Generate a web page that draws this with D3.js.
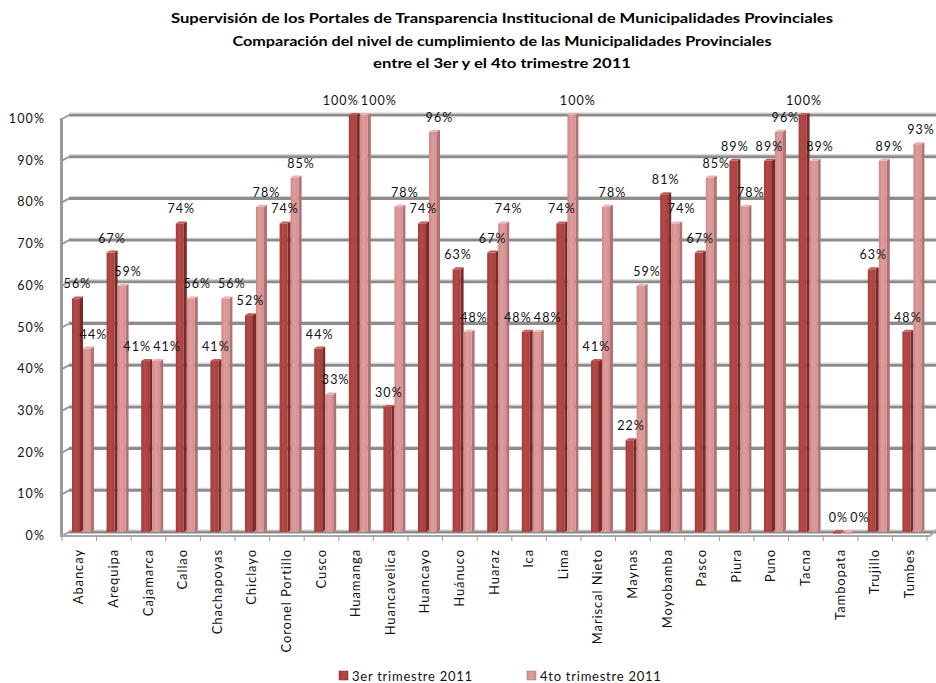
<!DOCTYPE html>
<html><head><meta charset="utf-8">
<script src="https://cdn.jsdelivr.net/npm/d3@7"></script>
<style>body{margin:0;background:#fff;}svg{display:block;}</style>
</head><body>
<script>
const categories = ["Abancay","Arequipa","Cajamarca","Callao","Chachapoyas","Chiclayo","Coronel Portillo","Cusco","Huamanga","Huancavelica","Huancayo","Huánuco","Huaraz","Ica","Lima","Mariscal Nieto","Maynas","Moyobamba","Pasco","Piura","Puno","Tacna","Tambopata","Trujillo","Tumbes"];
const series = ["3er trimestre 2011","4to trimestre 2011"];
const q3 = [56,67,41,74,41,52,74,44,100,30,74,63,67,48,74,41,22,81,67,89,89,100,0,63,48];
const q4 = [44,59,41,56,56,78,85,33,100,78,96,48,74,48,100,78,59,74,85,78,96,89,0,89,93];
const yTicks = [0,10,20,30,40,50,60,70,80,90,100];
const titleLines = ["Supervisión de los Portales de Transparencia Institucional de Municipalidades Provinciales","Comparación del nivel de cumplimiento de las Municipalidades Provinciales","entre el 3er y el 4to trimestre 2011"];

const W=936,H=683;
const svg=d3.select("body").append("svg").attr("width",W).attr("height",H);
const font="Lato, 'Open Sans', sans-serif";

const defs=svg.append("defs");
function grad(id,c1,c2,c3){
  const g=defs.append("linearGradient").attr("id",id).attr("x1","0").attr("x2","1").attr("y1","0").attr("y2","0");
  g.append("stop").attr("offset","0%").attr("stop-color",c1);
  g.append("stop").attr("offset","45%").attr("stop-color",c2);
  g.append("stop").attr("offset","100%").attr("stop-color",c3);
}
grad("g0","#a53c3a","#b44a47","#a2403d");
grad("g1","#d08887","#de9d9c","#d29190");
const sideCol=["#7a2a28","#b27172"];
const topCol=["#c25a57","#e6b1b0"];

const x=d3.scaleBand().domain(categories).range([62,927]);
const x1=d3.scaleBand().domain(series).range([10,32]);
const y=d3.scaleLinear().domain([0,100]).range([532,115]);

// title
const tw=[662,539,258];
titleLines.forEach((t,i)=>{
  svg.append("text").attr("x",502).attr("y",23+i*22.5).attr("text-anchor","middle")
    .attr("font-family",font).attr("font-weight","bold").attr("font-size",14)
    .attr("textLength",tw[i]).attr("lengthAdjust","spacingAndGlyphs").attr("fill","#000").text(t);
});

// gridlines (3D back wall)
const g=svg.append("g");
yTicks.forEach(v=>{
  const yy=y(v);
  g.append("line").attr("x1",69).attr("x2",W).attr("y1",yy).attr("y2",yy).attr("stroke","#8c8c8c").attr("stroke-width",3);
  g.append("line").attr("x1",69).attr("x2",W).attr("y1",yy-2).attr("y2",yy-2).attr("stroke","#cfcfcf").attr("stroke-width",1);
  g.append("line").attr("x1",62).attr("x2",69).attr("y1",yy+4).attr("y2",yy).attr("stroke","#9a9a9a").attr("stroke-width",2);
});
g.append("line").attr("x1",61.5).attr("x2",61.5).attr("y1",y(100)+3).attr("y2",537).attr("stroke","#9a9a9a").attr("stroke-width",3);
g.append("line").attr("x1",60).attr("x2",930).attr("y1",536).attr("y2",536).attr("stroke","#a8a8a8").attr("stroke-width",2);
g.append("line").attr("x1",930).attr("x2",936).attr("y1",536).attr("y2",530).attr("stroke","#a8a8a8").attr("stroke-width",2);
categories.concat([null]).forEach((c,i)=>{
  const xx=c?x(c):x.range()[1];
  g.append("line").attr("x1",xx).attr("x2",xx).attr("y1",536).attr("y2",541).attr("stroke","#9a9a9a").attr("stroke-width",1);
});
yTicks.forEach(v=>{
  svg.append("text").attr("x",45).attr("y",y(v)+8).attr("text-anchor","end")
    .attr("font-family",font).attr("font-size",12.5).attr("letter-spacing",1.1).attr("fill","#111").text(v+"%");
});

// bars
const data=[q3,q4];
const bars=svg.append("g");
categories.forEach((c,i)=>{
  series.forEach((s,si)=>{
    const v=data[si][i];
    const bx=x(c)+x1(s), fw=8, sw=3;
    const top=y(v), base=532;
    const h=base-top;
    bars.append("path").attr("d",`M${bx+fw},${top} L${bx+fw+sw},${top-2} L${bx+fw+sw},${base-2} L${bx+fw},${base} Z`).attr("fill",sideCol[si]);
    bars.append("rect").attr("x",bx).attr("y",top).attr("width",fw).attr("height",Math.max(h,1.5)).attr("fill",`url(#g${si})`);
    bars.append("path").attr("d",`M${bx},${top} L${bx+sw},${top-2} L${bx+fw+sw},${top-2} L${bx+fw},${top} Z`).attr("fill",topCol[si]);
  });
});

// labels with simple collision avoidance
const lab=svg.append("g").attr("font-family",font).attr("font-size",12.5).attr("letter-spacing",1.1).attr("fill","#111");
categories.forEach((c,i)=>{
  const t=series.map((s,si)=>{
    const v=data[si][i];
    const cx=x(c)+x1(s)+5.5+(si?5:0);
    return lab.append("text").attr("x",cx).attr("y",y(v)-10).attr("text-anchor","middle").text(v+"%");
  });
  const w0=t[0].node().getComputedTextLength(), w1=t[1].node().getComputedTextLength();
  const xa=+t[0].attr("x"), xb=+t[1].attr("x");
  const dy=Math.abs(y(data[0][i])-y(data[1][i]));
  if(dy<14 && (xb-xa)<(w0+w1)/2+2){
    const mid=x(c)+x1.range()[0]+(x1.range()[1]-x1.range()[0])/2+(data[0][i]===0?5:0);
    const sep=(w0+w1)/2+2;
    t[0].attr("x",mid-sep/2); t[1].attr("x",mid+sep/2);
  }
  t.forEach((tt,k)=>{
    const w=k?w1:w0;
    if(+tt.attr("x")+w/2>W-1) tt.attr("x",W-1-w/2);
  });
});

// category labels
categories.forEach(c=>{
  const cx=x(c)+x.bandwidth()/2+4;
  svg.append("text").attr("transform",`translate(${cx},549) rotate(-90)`).attr("text-anchor","end")
    .attr("font-family",font).attr("font-size",13).attr("letter-spacing",0.9).attr("fill","#111").text(c);
});

// legend
const leg=[{x:339,t:series[0]},{x:527,t:series[1]}];
leg.forEach((l,i)=>{
  svg.append("rect").attr("x",l.x).attr("y",671).attr("width",9).attr("height",9).attr("fill",`url(#g${i})`).attr("stroke",sideCol[i]).attr("stroke-width",0.5);
  svg.append("text").attr("x",l.x+13).attr("y",681).attr("font-family",font).attr("font-size",13).attr("letter-spacing",0.75).attr("fill","#111").text(l.t);
});
</script>
</body></html>
